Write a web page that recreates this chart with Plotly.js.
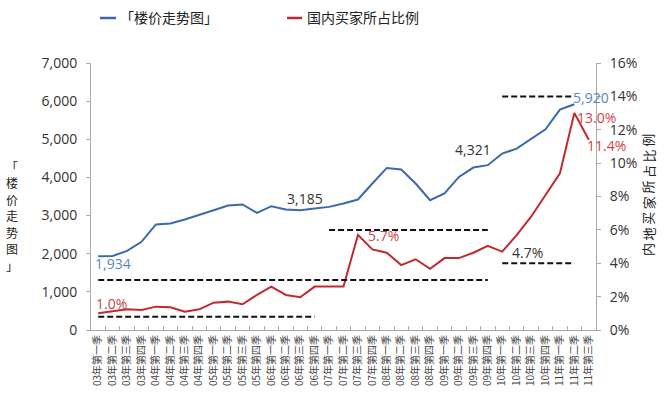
<!DOCTYPE html>
<html>
<head>
<meta charset="utf-8">
<script src="https://cdn.plot.ly/plotly-3.0.1.min.js"></script>
<style>html,body{margin:0;padding:0;background:#fff;}#chart{width:668px;height:404px;}</style>
</head>
<body>
<div id="chart"></div>
<script>
// Quarters 03年第一季 ... 11年第三季
const years = ['03','04','05','06','07','08','09','10','11'];
const quarters = ['一','二','三','四'];
const categories = [];
years.forEach(y => quarters.forEach(q => categories.push(y + '年第' + q + '季')));
categories.splice(35); // up to 11年第三季

// 楼价走势 (left axis)
const priceSeries = [1934, 1940, 2076, 2311, 2767, 2793, 2898, 3010, 3141, 3264, 3291, 3071,
  3246, 3160, 3141, 3185, 3228, 3317, 3421, 3840, 4249, 4207, 3840, 3403,
  3578, 4014, 4259, 4321, 4625, 4756, 5008, 5262, 5777, 5920];

// 国内买家所占比例 (right axis, %)
const shareSeries = [1.0, 1.14, 1.24, 1.2, 1.4, 1.36, 1.1, 1.24, 1.64, 1.7, 1.54, 2.1,
  2.6, 2.1, 1.96, 2.6, 2.6, 2.6, 5.7, 4.83, 4.63, 3.89, 4.24, 3.67,
  4.31, 4.31, 4.63, 5.05, 4.7, 5.69, 6.79, 8.09, 9.39, 13.0, 11.4];

// Dashed reference lines (right axis, %)
const dashLevels = [0.8, 3.0, 6.0, 4.0, 14.0];
const dashStart  = [0, 0, 16, 28, 28];
const dashEnd    = [15, 27, 27, 33, 33];

// Labelled points
const priceLabelIdx = [0, 15, 27, 33];
const shareLabelIdx = [0, 18, 28, 33, 34];

const seriesNames = ['「楼价走势图」', '国内买家所占比例'];
const rightTitle = '内地买家所占比例';

const BLUE = '#3a6aa8', RED = '#c22a30';
const numFont = 'Open Sans, Lato, sans-serif';
const cjkFont = 'Noto Sans CJK SC, sans-serif';

const M = {l: 91, r: 72, t: 63, b: 74};
const W = 668, H = 404;
const plotW = W - M.l - M.r, plotH = H - M.t - M.b;
const px2x = px => (px - M.l) / plotW;
const px2y = py => (H - M.b - py) / plotH;

const traces = [
  {x: categories.slice(0, priceSeries.length), y: priceSeries, name: seriesNames[0], type: 'scatter', mode: 'lines',
   line: {color: BLUE, width: 2}, yaxis: 'y'},
  {x: categories, y: shareSeries, name: seriesNames[1], type: 'scatter', mode: 'lines',
   line: {color: RED, width: 2}, yaxis: 'y2'}
];

const shapes = dashLevels.map((lv, i) => ({
  type: 'line', xref: 'x', yref: 'y2', x0: dashStart[i], x1: dashEnd[i], y0: lv, y1: lv,
  line: {color: '#111', width: 2, dash: '6px,3px'}
}));

const fmtNum = v => v.toLocaleString('en-US');
const fmtPct = v => v.toFixed(1) + '%';

const priceLabelStyle = [
  {xanchor: 'left', xshift: -5, yshift: -7, color: '#5a86bb'},
  {xanchor: 'center', xshift: -10, yshift: 10, color: '#333'},
  {xanchor: 'center', xshift: -15, yshift: 16, color: '#333'},
  {xanchor: 'left', xshift: -3, yshift: 7, color: '#5a86bb'}
];
const shareLabelStyle = [
  {xanchor: 'left', xshift: -4, yshift: 10, color: '#c9454b'},
  {xanchor: 'left', xshift: 8, yshift: -1, color: '#c9454b'},
  {xanchor: 'left', xshift: 8, yshift: -1, color: '#333'},
  {xanchor: 'left', xshift: 1, yshift: -4, color: '#c9454b'},
  {xanchor: 'left', xshift: -4, yshift: -6, color: '#c9454b'}
];

const annotations = [];
priceLabelIdx.forEach((idx, k) => {
  const s = priceLabelStyle[k];
  annotations.push({xref: 'x', yref: 'y', x: categories[idx], y: priceSeries[idx], text: fmtNum(priceSeries[idx]),
    showarrow: false, xanchor: s.xanchor, yanchor: 'middle', xshift: s.xshift, yshift: s.yshift,
    font: {family: numFont, size: 14, color: s.color}});
});
shareLabelIdx.forEach((idx, k) => {
  const s = shareLabelStyle[k];
  annotations.push({xref: 'x', yref: 'y2', x: categories[idx], y: shareSeries[idx], text: fmtPct(shareSeries[idx]),
    showarrow: false, xanchor: s.xanchor, yanchor: 'middle', xshift: s.xshift, yshift: s.yshift,
    font: {family: numFont, size: 14, color: s.color}});
});

// left vertical stacked title: one upright character per row
Array.from(seriesNames[0]).forEach((ch, k) => {
  annotations.push({xref: 'paper', yref: 'paper', x: px2x(12), y: px2y(166 + k * 16.5),
    xanchor: 'center', yanchor: 'middle', showarrow: false, text: ch,
    font: {family: cjkFont, size: 12, color: '#222'}});
});
// right axis title: characters rotated, reading bottom to top
const rChars = Array.from(rightTitle);
rChars.forEach((ch, k) => {
  annotations.push({xref: 'paper', yref: 'paper', x: px2x(648), y: px2y(250 - k * 15.6),
    xanchor: 'center', yanchor: 'middle', showarrow: false, text: ch, textangle: -90,
    font: {family: cjkFont, size: 13, color: '#222'}});
});

// manual legend (line samples + labels) at top
const legendItems = [
  {x0: 100, x1: 116, tx: 118, color: BLUE, name: seriesNames[0]},
  {x0: 287, x1: 302, tx: 305, color: RED, name: seriesNames[1]}
];
legendItems.forEach(it => {
  shapes.push({type: 'line', xref: 'paper', yref: 'paper', x0: px2x(it.x0), x1: px2x(it.x1),
    y0: px2y(18), y1: px2y(18), line: {color: it.color, width: 2.5}});
  annotations.push({xref: 'paper', yref: 'paper', x: px2x(it.tx), y: px2y(17), xanchor: 'left', yanchor: 'middle',
    showarrow: false, text: it.name, font: {family: cjkFont, size: 14, color: '#222'}});
});

const layout = {
  width: W, height: H,
  margin: M,
  paper_bgcolor: '#fff', plot_bgcolor: '#fff',
  showlegend: false,
  xaxis: {type: 'category', range: [-0.5, 34.5], showgrid: false, zeroline: false,
    showline: true, linecolor: '#aaa', linewidth: 1, ticks: 'inside', ticklen: 4, tickcolor: '#aaa',
    tickson: 'boundaries', tickangle: -90, tickfont: {family: cjkFont, size: 10, color: '#444'},
    automargin: false, fixedrange: true},
  yaxis: {range: [0, 7000], dtick: 1000, tickformat: ',d', showgrid: false, zeroline: false,
    showline: true, linecolor: '#aaa', ticks: 'outside', ticklen: 4, tickcolor: '#aaa',
    tickfont: {family: numFont, size: 14, color: '#333'}, ticklabelstandoff: 6, automargin: false},
  yaxis2: {overlaying: 'y', side: 'right', range: [0, 16], dtick: 2, ticksuffix: '%', showgrid: false,
    zeroline: false, showline: true, linecolor: '#aaa', ticks: 'outside', ticklen: 4, tickcolor: '#aaa',
    tickfont: {family: numFont, size: 14, color: '#333'}, ticklabelstandoff: 6, automargin: false},
  shapes: shapes,
  annotations: annotations
};

Plotly.newPlot('chart', traces, layout, {displayModeBar: false, responsive: false});
</script>
</body>
</html>
